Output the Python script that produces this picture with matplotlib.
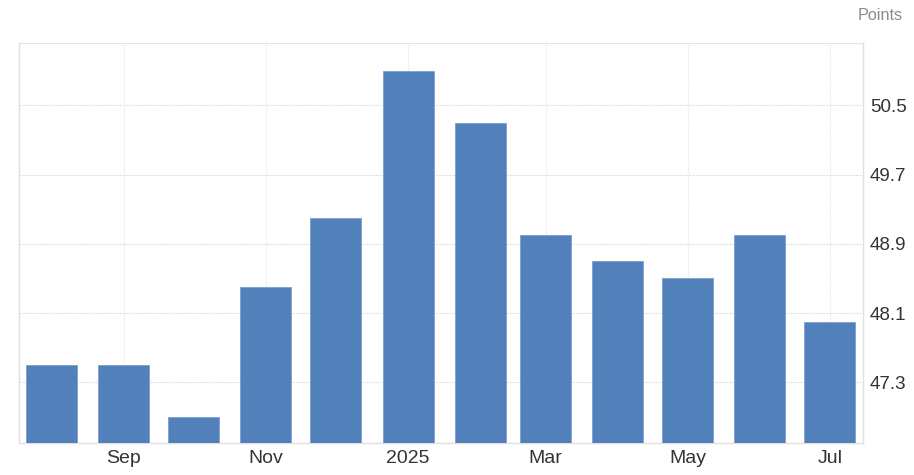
import datetime as dt
import matplotlib.pyplot as plt

months = ["2024-08-01", "2024-09-01", "2024-10-01", "2024-11-01", "2024-12-01", "2025-01-01",
          "2025-02-01", "2025-03-01", "2025-04-01", "2025-05-01", "2025-06-01", "2025-07-01"]
values = [47.5, 47.5, 46.9, 48.4, 49.2, 50.9, 50.3, 49.0, 48.7, 48.5, 49.0, 48.0]
tick_dates = ["2024-09-01", "2024-11-01", "2025-01-01", "2025-03-01", "2025-05-01", "2025-07-01"]
tick_labels = ["Sep", "Nov", "2025", "Mar", "May", "Jul"]
y_ticks = [47.3, 48.1, 48.9, 49.7, 50.5]

plt.rcParams["font.family"] = ["Liberation Sans", "DejaVu Sans"]

dates = [dt.datetime.strptime(m, "%Y-%m-%d") for m in months]
ticks = [dt.datetime.strptime(t, "%Y-%m-%d") for t in tick_dates]

fig = plt.figure(figsize=(9.14, 4.75), dpi=100)
ax = fig.add_axes([0.0208, 0.068, 0.9232, 0.841])

ax.bar(dates, values, width=21.9, color="#5180bb", edgecolor="#7a9fd0", linewidth=0.6,
       zorder=3)

ax.set_xlim(dt.datetime(2024, 7, 18, 1), dt.datetime(2025, 7, 15, 4))
ax.set_ylim(46.6, 51.22)

ax.set_xticks(ticks)
ax.set_xticklabels(tick_labels)
ax.set_yticks(y_ticks)
ax.set_yticklabels([f"{v:.1f}" for v in y_ticks])
ax.yaxis.tick_right()

ax.tick_params(axis="both", length=0, colors="#333333")
ax.tick_params(axis="x", labelsize=14, pad=5)
ax.tick_params(axis="y", labelsize=13.5, pad=5)

ax.grid(True, axis="y", color="#e0e0e0", linestyle=(0, (2, 1)), linewidth=0.8, zorder=0)
ax.grid(True, axis="x", color="#ebebeb", linestyle=(0, (2, 1)), linewidth=0.8, zorder=0)

for side in ["left", "right", "bottom"]:
    ax.spines[side].set_color("#e0e0e0")
    ax.spines[side].set_linewidth(1.0)
ax.spines["top"].set_color("#e3e3e3")
ax.spines["top"].set_linestyle((0, (2, 1)))
ax.spines["top"].set_linewidth(0.8)

fig.text(0.988, 0.968, "Points", ha="right", va="center", fontsize=11.7, color="#8c8c8c")

fig.savefig("out.png", dpi=100)
